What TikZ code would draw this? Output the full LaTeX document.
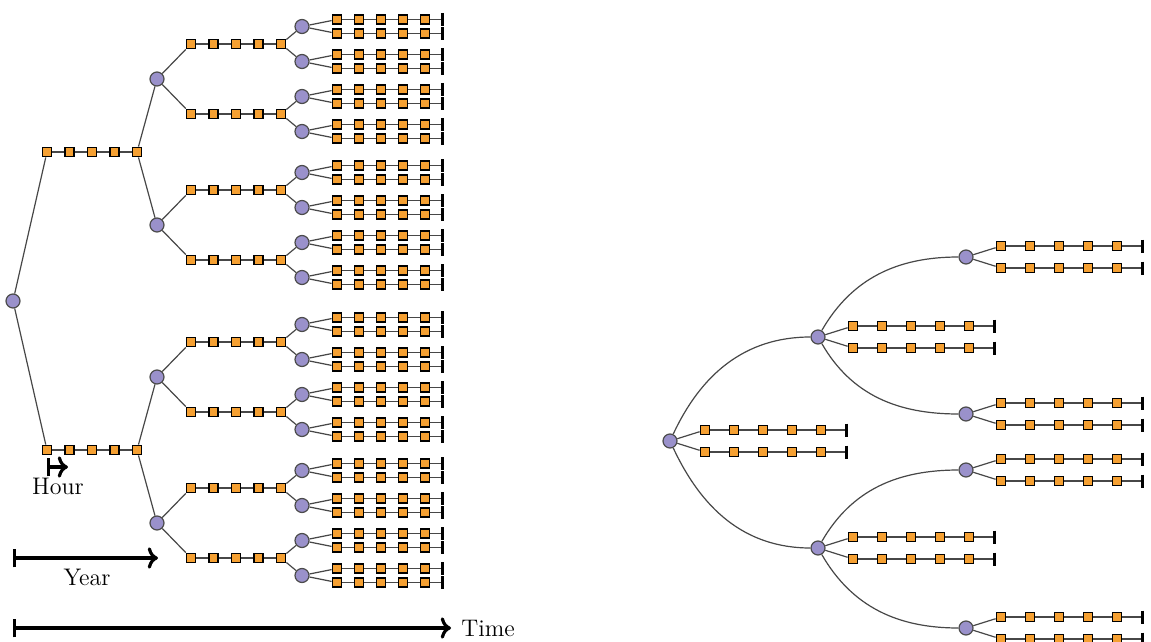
\documentclass[tikz,border=0pt]{standalone}
\usetikzlibrary{arrows.meta}

\definecolor{sqorange}{HTML}{F5A032}
\definecolor{stpurple}{HTML}{9A91CB}

\tikzset{
  sq/.style={draw=black, fill=sqorange, line width=0.8pt, minimum size=4.6pt, inner sep=0pt},
  st/.style={circle, draw=black!70, fill=stpurple, line width=0.6pt, minimum size=7pt, inner sep=0pt},
  lnk/.style={draw=black!72, line width=0.6pt},
  endtick/.style={lnk, -{Bar[width=6.5pt, line width=1.3pt, black]}},
  span/.style={line width=1.6pt, |->}
}

% a row of 5 hourly squares: name, first x, y, spacing
\newcommand{\sqchain}[4]{%
  \foreach \k in {1,...,5} \node[sq] (#1-\k) at ({#2+(\k-1)*#4},{#3}) {};
  \foreach \k [count=\j from 2] in {1,...,4} \draw[lnk] (#1-\k) -- (#1-\j);
}
% same row, closed by a tick at x = #5
\newcommand{\leafchain}[5]{%
  \sqchain{#1}{#2}{#3}{#4}
  \coordinate (#1-e) at (#5,{#3});
  \draw[endtick] (#1-5) -- (#1-e);
}

\begin{document}
\begin{tikzpicture}[x=0.5pt, y=-0.5pt]
  \useasboundingbox (0,0) rectangle (1151,642);

  %% left tree
  \node[st] (r) at (13,301) {};
  \foreach \s/\ya in {a/152, b/450} {
    \sqchain{\s}{47}{\ya}{22.5}
    \draw[lnk] (r) -- (\s-1);
    \foreach \t/\db in {1/-73, 2/73} {
      \node[st] (\s\t) at (157,{\ya+(\db)}) {};
      \draw[lnk] (\s-5) -- (\s\t);
      \foreach \u/\dc in {1/-35, 2/35} {
        \sqchain{\s\t\u}{191}{\ya+(\db)+(\dc)}{22.5}
        \draw[lnk] (\s\t) -- (\s\t\u-1);
        \foreach \v/\dd in {1/-17.5, 2/17.5} {
          \node[st] (\s\t\u\v) at (302,{\ya+(\db)+(\dc)+(\dd)}) {};
          \draw[lnk] (\s\t\u-5) -- (\s\t\u\v);
          \foreach \w/\de in {1/-7, 2/7} {
            \leafchain{\s\t\u\v\w}{337}{\ya+(\db)+(\dc)+(\dd)+(\de)}{22}{444}
            \draw[lnk] (\s\t\u\v) -- (\s\t\u\v\w-1);
          }
        }
      }
    }
  }

  %% scales
  \coordinate (h0) at (47,467);  \coordinate (h1) at (68,467);
  \coordinate (y0) at (13,558);  \coordinate (y1) at (158,558);
  \coordinate (t0) at (13,628);  \coordinate (t1) at (451,628);
  \draw[span] (h0) -- (h1);
  \draw[span] (y0) -- (y1);
  \draw[span] (t0) -- (t1);
  \large
  \node (hour) at (58,486) {Hour};
  \node (year) at (87,577) {Year};
  \node[anchor=west, inner sep=0pt] (time) at (461,628) {Time};

  %% right tree
  \node[st] (R) at (670,441) {};
  \node[st] (P) at (818,337) {};
  \node[st] (Q) at (818,548) {};
  \draw[lnk] (R) to[out=65,in=180] (P);
  \draw[lnk] (R) to[out=-65,in=180] (Q);
  \foreach \w/\de in {1/-11, 2/11} {
    \leafchain{R\w}{705}{441+(\de)}{29}{848}
    \draw[lnk] (R) -- (R\w-1);
  }
  \foreach \s/\ya/\yb/\yc in {P/337/257/414, Q/548/470/628} {
    \foreach \w/\de in {1/-11, 2/11} {
      \leafchain{\s\w}{853}{\ya+(\de)}{29}{996}
      \draw[lnk] (\s) -- (\s\w-1);
    }
    \node[st] (\s1) at (966,\yb) {};
    \node[st] (\s2) at (966,\yc) {};
    \draw[lnk] (\s) to[out=60,in=180] (\s1);
    \draw[lnk] (\s) to[out=-60,in=180] (\s2);
    \foreach \t/\yt in {1/\yb, 2/\yc} {
      \foreach \w/\de in {1/-11, 2/11} {
        \leafchain{\s\t\w}{1001}{\yt+(\de)}{29}{1144}
        \draw[lnk] (\s\t) -- (\s\t\w-1);
      }
    }
  }
\end{tikzpicture}
\end{document}
